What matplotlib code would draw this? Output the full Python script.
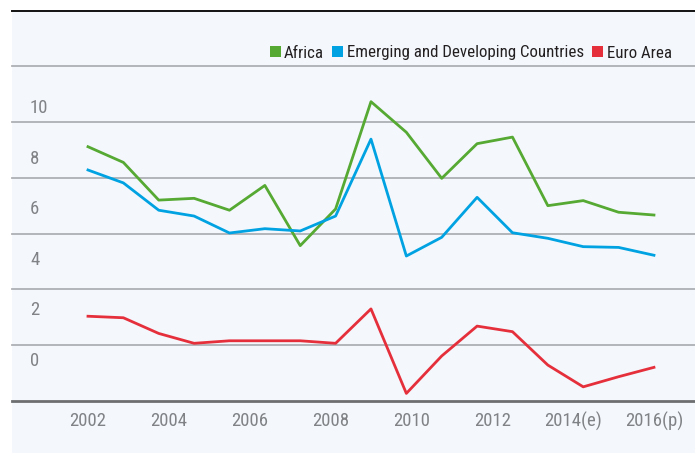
import matplotlib.pyplot as plt
import numpy as np
from matplotlib.patches import Patch, Rectangle
from matplotlib.lines import Line2D
import matplotlib.transforms as mtransforms
from matplotlib import font_manager

names = {f.name for f in font_manager.fontManager.ttflist}
narrow = [n for n in ['Roboto Condensed', 'Liberation Sans Narrow', 'Arial Narrow'] if n in names]
plt.rcParams['font.family'] = narrow + ['Roboto', 'DejaVu Sans']
fs = 13.5 if narrow else 11.5

# data (17 points)
africa = [8.47, 7.85, 6.36, 6.43, 5.96, 6.94, 4.56, 6.01, 10.25, 9.04, 7.22,
          8.59, 8.85, 6.14, 6.34, 5.88, 5.77]
emerging = [7.55, 7.04, 5.96, 5.73, 5.06, 5.23, 5.14, 5.73, 8.77, 4.15, 4.89,
            6.47, 5.07, 4.85, 4.52, 4.49, 4.18]
euro = [1.77, 1.71, 1.09, 0.70, 0.80, 0.80, 0.80, 0.70, 2.06, -1.28, 0.20,
        1.38, 1.16, -0.16, -1.02, -0.62, -0.25]
xlabels = ['2002', '2004', '2006', '2008', '2010', '2012', '2014(e)', '2016(p)']
ylabels = [0, 2, 4, 6, 8, 10]

series = [
  ['Africa', '#56a933', africa],
  ['Emerging and Developing Countries', '#00a2e1', emerging],
  ['Euro Area', '#e5303c', euro],
]

W, H = 695, 453
fig = plt.figure(figsize=(W / 100, H / 100), dpi=100, facecolor='white')

# light background panel and top rule
fig.patches.append(Rectangle((12 / W, 0), 1 - 12 / W, 1 - 11 / H, transform=fig.transFigure,
                             facecolor='#f4f8fd', edgecolor='none', zorder=-5))
fig.lines.append(Line2D([12 / W, 1], [1 - 10.5 / H, 1 - 10.5 / H], transform=fig.transFigure,
                        color='#111111', linewidth=1.4))

ax = fig.add_axes([12 / W, 52 / H, 1 - 12 / W, (401 - 66) / H])
ax.set_facecolor('none')

x = np.arange(len(africa))
for name, color, vals in series:
  ax.plot(x, vals, color=color, linewidth=2.0, label=name, zorder=3)

ax.set_xlim(-2.148, 17.16)
ax.set_ylim(-1.58, 11.66)

# gridlines at evenly spaced minor positions
ax.set_yticks([])
ax.set_yticks(np.linspace(-1.58, 11.66, 7)[1:], minor=True)
ax.tick_params(axis='y', which='both', length=0, labelleft=False)
ax.grid(True, axis='y', which='minor', color='#adb0b4', linewidth=1.3)
for tick in ax.yaxis.get_minor_ticks():
  tick.gridline.set_clip_on(False)

trans = mtransforms.blended_transform_factory(ax.transAxes, ax.transData)
for v in ylabels:
  ax.text(18 / (W - 12), v, str(v), transform=trans, ha='left', va='center',
          fontsize=fs, color='#808285')

ax.set_xticks(np.linspace(0, 16, len(xlabels)), xlabels)
ax.tick_params(axis='x', length=0, pad=8, labelsize=fs, labelcolor='#808285')

for s in ['top', 'left', 'right']:
  ax.spines[s].set_visible(False)
ax.spines['bottom'].set_color('#6d6e70')
ax.spines['bottom'].set_linewidth(2.0)

handles = [Patch(facecolor=c, edgecolor='none', label=n) for n, c, _ in series]
fig.legend(handles=handles, loc='center right', bbox_to_anchor=(680 / W, 1 - 53 / H),
           ncol=3, frameon=False, fontsize=fs * 0.9, handlelength=0.65, handleheight=0.65,
           handletextpad=0.2, columnspacing=0.5, labelcolor='#231f20', borderpad=0)

fig.savefig('out.png', dpi=100, facecolor='white')
